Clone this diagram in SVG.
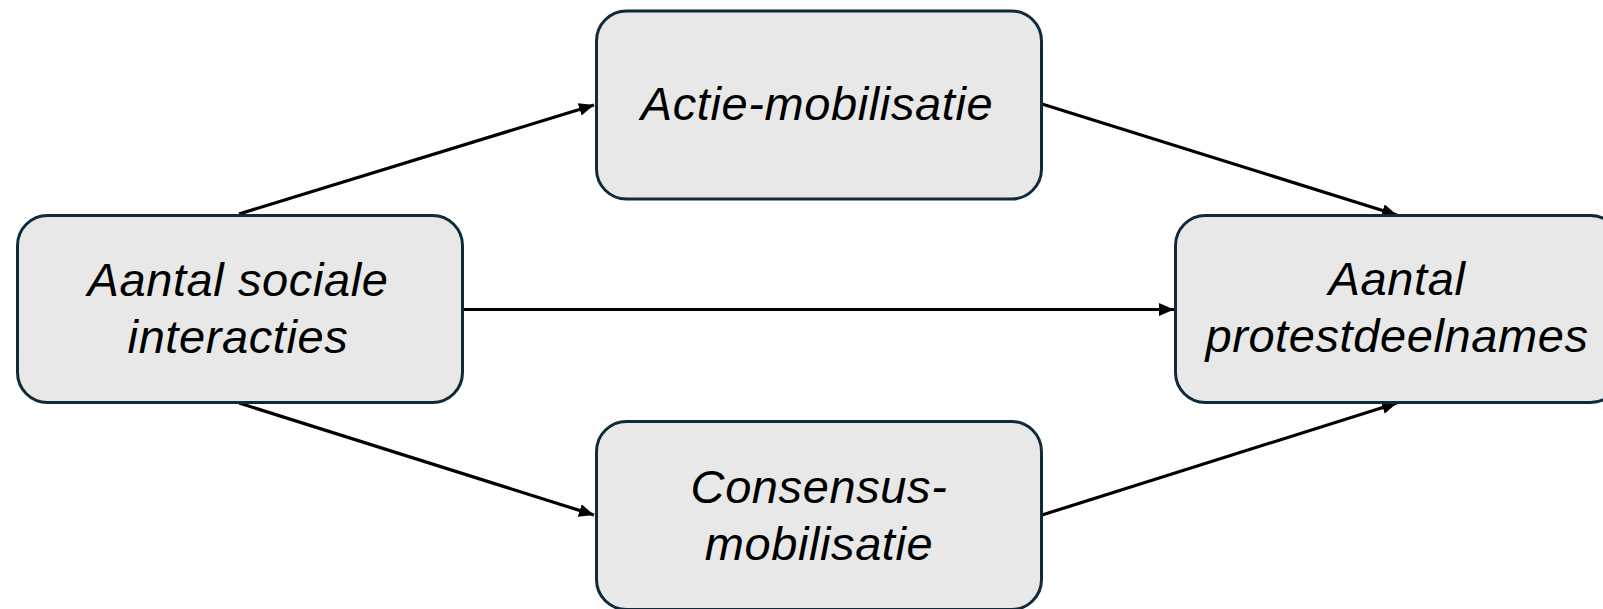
<svg xmlns="http://www.w3.org/2000/svg" width="1603" height="609" viewBox="0 0 1603 609">
<style>
.box{fill:#e8e8e8;stroke:#0e2a3b;stroke-width:3}
.lbl{font-family:"Liberation Sans",Arial,sans-serif;font-style:italic;font-size:47px;letter-spacing:0.6px;fill:#000;text-anchor:middle}
.con{stroke:#000;stroke-width:3.2;fill:none;marker-end:url(#ah)}
</style>
<defs>
<marker id="ah" markerUnits="userSpaceOnUse" markerWidth="16" markerHeight="14" refX="15" refY="6.5" orient="auto">
<path d="M0,0 L15,6.5 L0,13 z" fill="#000"/>
</marker>
</defs>
<rect width="1603" height="609" fill="#fff"/>
<g id="connectors">
<line class="con" x1="239" y1="214" x2="594" y2="105"/>
<line class="con" x1="1042" y1="104" x2="1397" y2="215"/>
<line class="con" x1="463" y1="309.5" x2="1174" y2="309.5"/>
<line class="con" x1="239" y1="403" x2="594" y2="515"/>
<line class="con" x1="1042" y1="515" x2="1397" y2="403"/>
</g>
<g id="n-sociale">
<rect class="box" x="17.5" y="215.5" width="445" height="187" rx="30"/>
<text class="lbl" x="238" y="296">Aantal sociale</text>
<text class="lbl" x="238" y="353">interacties</text>
</g>
<g id="n-actie">
<rect class="box" x="596.5" y="11" width="445" height="188" rx="30"/>
<text class="lbl" x="817" y="120">Actie-mobilisatie</text>
</g>
<g id="n-consensus">
<rect class="box" x="596.5" y="421.5" width="445" height="188" rx="30"/>
<text class="lbl" x="819" y="503">Consensus-</text>
<text class="lbl" x="819" y="560">mobilisatie</text>
</g>
<g id="n-protest">
<rect class="box" x="1175.5" y="215.5" width="445" height="187" rx="30"/>
<text class="lbl" x="1397" y="295">Aantal</text>
<text class="lbl" x="1397" y="352">protestdeelnames</text>
</g>
</svg>
